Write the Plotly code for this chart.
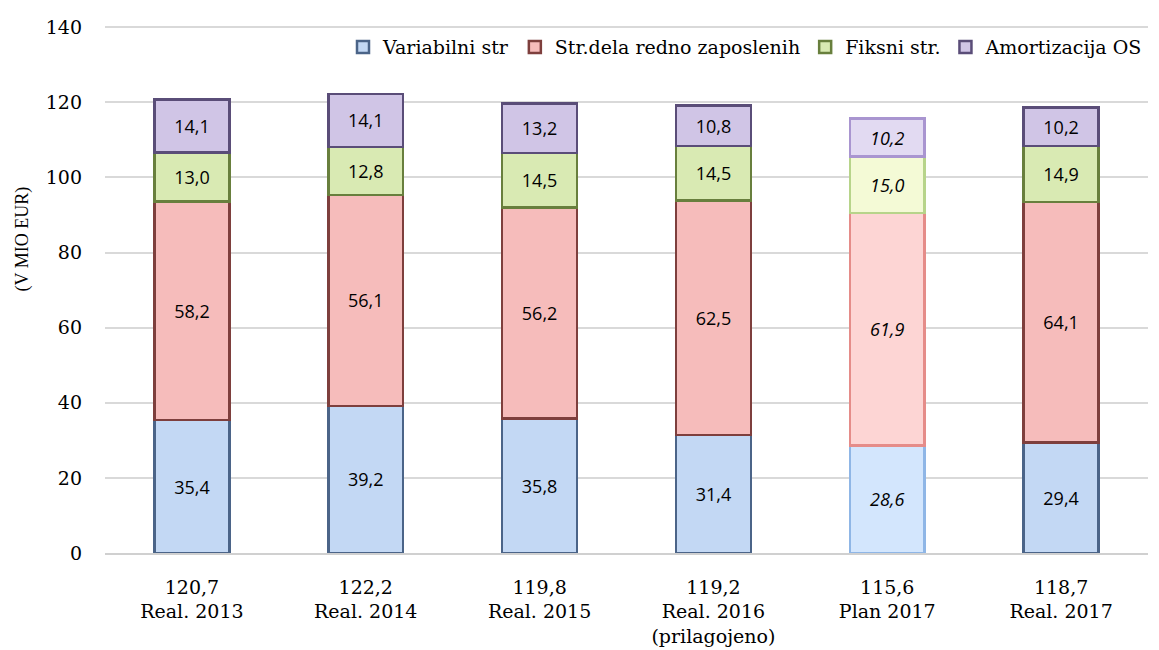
import plotly.graph_objects as go

categories = ["Real. 2013", "Real. 2014", "Real. 2015", "Real. 2016<br>(prilagojeno)", "Plan 2017", "Real. 2017"]
totals = ["120,7", "122,2", "119,8", "119,2", "115,6", "118,7"]
variabilni = [35.4, 39.2, 35.8, 31.4, 28.6, 29.4]
redno = [58.2, 56.1, 56.2, 62.5, 61.9, 64.1]
fiksni = [13.0, 12.8, 14.5, 14.5, 15.0, 14.9]
amortizacija = [14.1, 14.1, 13.2, 10.8, 10.2, 10.2]
series_names = ["Variabilni str", "Str.dela redno zaposlenih", "Fiksni str.", "Amortizacija OS"]
plan_index = 4

ticktext = [f"{t}<br>{c}" for t, c in zip(totals, categories)]
x = list(range(len(categories)))

styles = [
    # fill real, fill plan, line real, line plan
    ("#c3d8f4", "#d3e6fd", "#4b6488", "#8fb6e6"),
    ("#f6bcbb", "#fdd5d4", "#7e3f3d", "#e58c89"),
    ("#d9eab3", "#f4fad6", "#687f3d", "#b7d48a"),
    ("#d0c5e6", "#e2daf2", "#5a4d78", "#a995d0"),
]

def fmt(v, i):
    s = f"{v:.1f}".replace(".", ",")
    return f"<i>{s}</i>" if i == plan_index else s

serif = "DejaVu Serif, Liberation Serif, serif"

fig = go.Figure()
for name, vals, st in zip(series_names, [variabilni, redno, fiksni, amortizacija], styles):
    fills = [st[1] if i == plan_index else st[0] for i in range(len(vals))]
    lines = [st[3] if i == plan_index else st[2] for i in range(len(vals))]
    fig.add_trace(go.Bar(
        x=x, y=vals, name=name,
        marker=dict(color=fills, line=dict(color=lines, width=2.5)),
        text=[fmt(v, i) for i, v in enumerate(vals)],
        textposition="inside", insidetextanchor="middle", textangle=0,
        textfont=dict(family="Open Sans, Noto Sans, Arial", size=18, color="#000000"),
        width=0.43,
    ))

fig.add_annotation(text="(V MIO EUR)", xref="paper", yref="paper",
                   x=-0.079, y=0.596, xanchor="center", yanchor="middle",
                   textangle=-90, showarrow=False,
                   font=dict(family="Liberation Serif, serif", size=18, color="#000000"))

fig.update_layout(
    barmode="stack",
    width=1151, height=642,
    margin=dict(l=97, r=11, t=18, b=97, autoexpand=False),
    plot_bgcolor="white", paper_bgcolor="white",
    font=dict(family=serif, size=17, color="#000000"),
    legend=dict(orientation="h", x=1.0, xanchor="right", y=0.96, yanchor="middle",
                font=dict(family=serif, size=19),
                traceorder="normal", bgcolor="rgba(0,0,0,0)",
                itemwidth=30, tracegroupgap=0),
    showlegend=True,
    uniformtext=dict(mode=False),
)
fig.update_xaxes(tickmode="array", tickvals=x, ticktext=ticktext, range=[-0.5, 5.5],
                 showline=True, linecolor="#d0d0d0", linewidth=1.5, ticks="",
                 automargin=False, ticklabelstandoff=16,
                 tickfont=dict(family=serif, size=19))
fig.update_yaxes(range=[0, 140.3], dtick=20, showgrid=True, gridcolor="#d9d9d9", gridwidth=1.5,
                 zeroline=False, ticks="", automargin=False, ticklabelstandoff=22,
                 tickfont=dict(family=serif, size=19))

fig.write_html("out.html")
